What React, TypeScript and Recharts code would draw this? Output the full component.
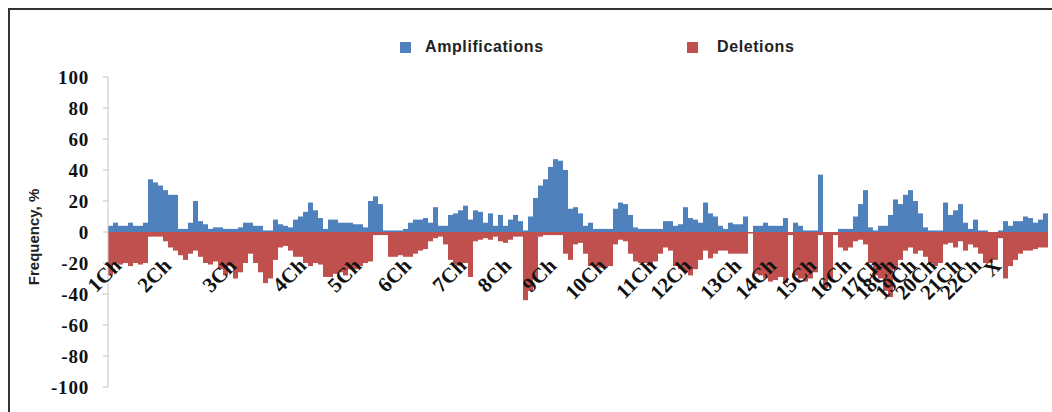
import { BarChart, Bar, XAxis, YAxis, Label, Text } from "recharts";

// frequency per genomic bin (188 bins, chr1 -> X)
const AMP = [
  4, 6, 4, 4, 6, 4, 4, 6, 34, 32, 30, 27, 24, 24, 2, 2, 6, 20, 7, 5,
  2, 3, 3, 2, 2, 2, 3, 6, 6, 4, 4, 1, 1, 8, 5, 4, 3, 8, 10, 13,
  19, 14, 9, 2, 8, 8, 6, 6, 6, 5, 5, 3, 20, 23, 18, 1, 1, 1, 1, 2,
  6, 8, 8, 9, 6, 16, 4, 4, 11, 12, 14, 17, 8, 14, 13, 6, 12, 4, 11, 4,
  8, 11, 7, 1, 10, 22, 30, 34, 42, 47, 46, 40, 15, 16, 12, 4, 6, 2, 2, 2,
  2, 15, 19, 18, 11, 3, 2, 2, 2, 2, 2, 7, 7, 4, 5, 16, 9, 8, 6, 19,
  12, 10, 4, 2, 6, 5, 5, 10, 0, 4, 4, 6, 4, 4, 4, 9, 0, 6, 4, 1,
  1, 1, 37, 0, 0, 0, 2, 2, 2, 10, 18, 27, 3, 1, 4, 4, 11, 21, 18, 24,
  27, 20, 12, 3, 1, 1, 1, 19, 11, 14, 18, 6, 2, 8, 1, 1, 0, 0, 1, 7,
  4, 7, 7, 10, 9, 6, 8, 12,
];

const DEL = [
  -28, -20, -21, -20, -22, -20, -21, -20, -3, -3, -3, -6, -10, -12, -15, -18, -14, -12, -16, -20,
  -21, -19, -24, -28, -22, -30, -26, -20, -14, -20, -26, -33, -30, -18, -10, -9, -12, -16, -16, -20,
  -22, -20, -21, -29, -29, -27, -26, -28, -24, -24, -22, -20, -19, -2, -2, -2, -16, -16, -15, -16,
  -16, -14, -12, -11, -6, -4, -3, -8, -18, -21, -22, -20, -29, -6, -5, -4, -5, -3, -6, -7,
  -5, -3, -3, -44, -38, -30, -3, -2, -2, -2, -2, -14, -18, -8, -7, -14, -22, -22, -23, -23,
  -22, -8, -5, -6, -14, -19, -20, -20, -22, -19, -14, -10, -12, -22, -24, -26, -28, -24, -18, -12,
  -17, -14, -12, -12, -14, -14, -14, -14, -1, -27, -28, -30, -32, -31, -29, -33, -2, -28, -30, -32,
  -30, -26, -2, -36, -30, -2, -10, -12, -10, -6, -5, -8, -20, -28, -30, -38, -42, -24, -18, -12,
  -10, -14, -12, -16, -20, -22, -20, -8, -7, -10, -6, -12, -8, -10, -14, -20, -20, -18, -4, -30,
  -22, -18, -14, -12, -12, -11, -10, -10,
];

const CHR_NAMES = [
  "1Ch", "2Ch", "3Ch", "4Ch", "5Ch", "6Ch", "7Ch", "8Ch", "9Ch", "10Ch", "11Ch", "12Ch",
  "13Ch", "14Ch", "15Ch", "16Ch", "17Ch", "18Ch", "19Ch", "20Ch", "21Ch", "22Ch", "X",
];
// bin under the end of each rotated chromosome label
const CHR_LABEL_BINS = [
  2, 12, 25, 39, 50, 60, 71, 80, 89, 99, 109, 116,
  126, 133, 141, 148, 154, 157, 161, 165, 170, 174, 178,
];

const Y_TICKS = [-100, -80, -60, -40, -20, 0, 20, 40, 60, 80, 100];

const data = AMP.map((amp, i) => ({ bin: `b${i}`, amp, del: DEL[i] }));
const labelOf = new Map(CHR_LABEL_BINS.map((b, k) => [`b${b}`, CHR_NAMES[k]]));

const TOP = 67;
const PLOT_H = 310;
const ZERO_Y = TOP + PLOT_H / 2;

const SERIF = "'Liberation Serif', 'Times New Roman', serif";
const SANS = "'Liberation Sans', Arial, sans-serif";

const renderChrTick = (props: any) => {
  const { x, payload } = props;
  const name = labelOf.get(payload.value);
  if (!name) return <g />;
  return (
    <Text
      x={x + 2}
      y={ZERO_Y + 35}
      angle={-45}
      textAnchor="end"
      verticalAnchor="end"
      fontFamily={SERIF}
      fontWeight={700}
      fontSize={21}
      fill="#111"
    >
      {name}
    </Text>
  );
};

export default function App() {
  return (
    <div style={{ width: 1052, height: 412, padding: "8px 0 0 8px", boxSizing: "border-box" }}>
      <style>{`body{margin:0;overflow:hidden}`}</style>
      <div
        style={{
          position: "relative",
          width: 1044,
          height: 404,
          borderTop: "2px solid #333",
          borderLeft: "2px solid #333",
          boxSizing: "border-box",
        }}
      >
        {/* legend */}
        <div style={{ position: "absolute", left: 390, top: 32, width: 11, height: 11, background: "#4F81BD" }} />
        <div
          style={{ position: "absolute", left: 415, top: 29, fontFamily: SANS, fontWeight: 700, fontSize: 16, lineHeight: "16px", color: "#222", letterSpacing: 0.6 }}
        >
          Amplifications
        </div>
        <div style={{ position: "absolute", left: 677, top: 32, width: 11, height: 11, background: "#C0504D" }} />
        <div
          style={{ position: "absolute", left: 707, top: 29, fontFamily: SANS, fontWeight: 700, fontSize: 16, lineHeight: "16px", color: "#222", letterSpacing: 0.6 }}
        >
          Deletions
        </div>

        <BarChart
          width={1042}
          height={402}
          data={data}
          margin={{ top: TOP, right: 4, bottom: 402 - TOP - PLOT_H - 20, left: 0 }}
          stackOffset="sign"
          barCategoryGap={0}
          barGap={0}
        >
          <XAxis
            dataKey="bin"
            type="category"
            height={20}
            ticks={CHR_LABEL_BINS.map((b) => `b${b}`)}
            interval={0}
            axisLine={false}
            tickLine={false}
            tick={renderChrTick}
          />
          <YAxis
            width={98}
            domain={[-100, 100]}
            ticks={Y_TICKS}
            interval={0}
            tickSize={5}
            tickMargin={14}
            axisLine={{ stroke: "#c4c4c4" }}
            tickLine={{ stroke: "#c4c4c4" }}
            tick={{ fontFamily: SERIF, fontWeight: 700, fontSize: 19, fill: "#111", letterSpacing: 0.8 }}
          >
            <Label
              content={() => (
                <text
                  x={23}
                  y={227}
                  transform="rotate(-90 23 227)"
                  textAnchor="middle"
                  dominantBaseline="central"
                  fontFamily={SANS}
                  fontWeight={700}
                  fontSize={15}
                  fill="#222"
                >
                  Frequency, %
                </text>
              )}
            />
          </YAxis>
          <Bar dataKey="amp" stackId="s" fill="#4F81BD" isAnimationActive={false} />
          <Bar dataKey="del" stackId="s" fill="#C0504D" isAnimationActive={false} />
        </BarChart>
      </div>
    </div>
  );
}
